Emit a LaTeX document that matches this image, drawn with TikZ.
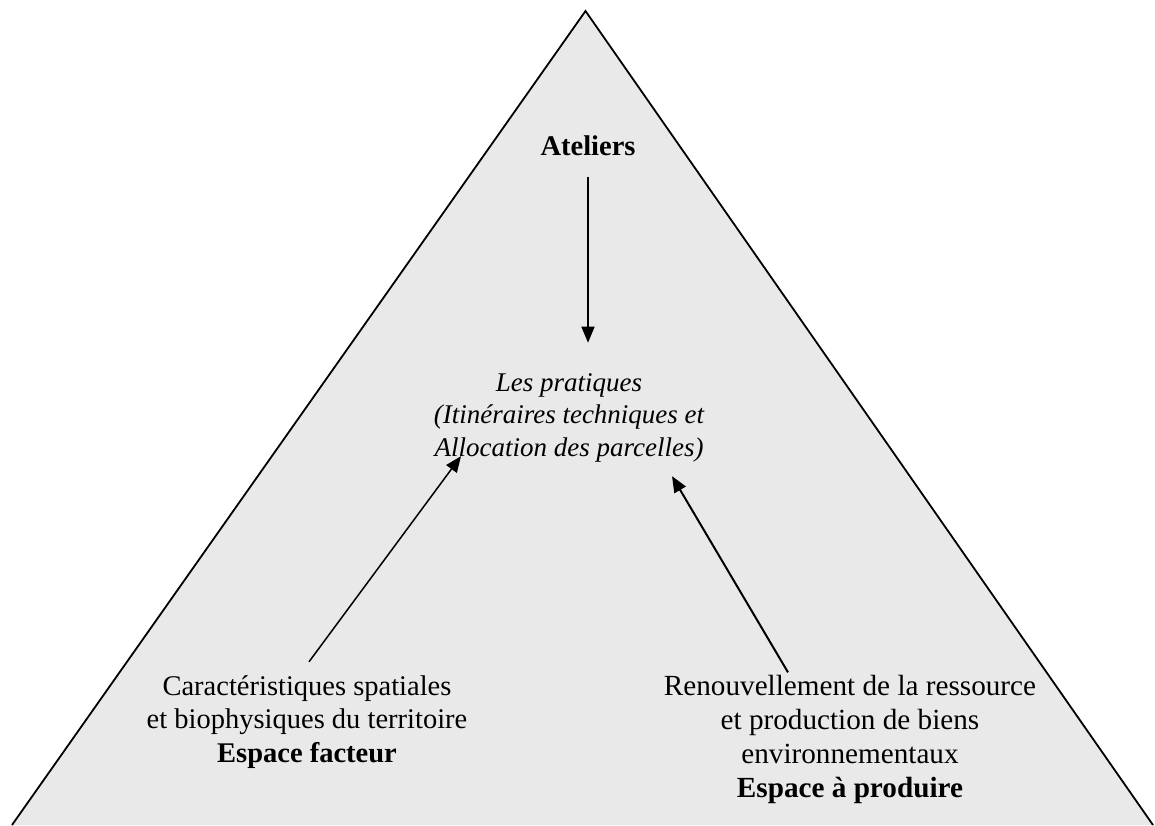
\documentclass[tikz,border=0pt]{standalone}
\usepackage{fontspec}
\setmainfont{Liberation Serif}
\usetikzlibrary{arrows.meta}
\definecolor{fond}{RGB}{233,233,233}

\begin{document}
\begin{tikzpicture}[x=0.5pt, y=-0.5pt,
  fleche/.style = {-{Triangle[length=8pt,width=6.5pt]}, line width=0.75pt},
  texte/.style = {align=center, inner sep=0pt, anchor=base,
    font=\fontsize{14.25}{16.75}\selectfont}]
\useasboundingbox (0,0) rectangle (1155,825);
\fill [fond] (585.5,11) -- (12,825) -- (1153,825) -- cycle;
\draw [line width=0.9pt, line join=miter] (12,825) -- (585.5,11) -- (1153,825);
\node [texte, font=\fontsize{14.25}{16.75}\selectfont\bfseries] (ateliers) at (588,155) {Ateliers};
\node [texte, font=\fontsize{13.5}{16.25}\selectfont\itshape] (pratiques) at (569,456)
  {Les pratiques\\(Itinéraires techniques et\\Allocation des parcelles)};
\node [texte] (caract) at (307,762)
  {Caractéristiques spatiales\\et biophysiques du territoire\\\textbf{Espace facteur}};
\node [texte, font=\fontsize{14.6}{17}\selectfont] (renouv) at (850,797)
  {Renouvellement de la ressource\\et production de biens\\environnementaux\\\textbf{Espace à produire}};
\draw [fleche] ([yshift=-10.5pt]ateliers.south) -- ([yshift=15pt]ateliers.south |- pratiques.north);
\draw [fleche] ([shift={(1pt,6.5pt)}]caract.north) -- ([shift={(-54pt,3pt)}]pratiques.south);
\draw [fleche, line width=1pt] ([shift={(-31pt,1pt)}]renouv.north) -- ([shift={(51.5pt,-7pt)}]pratiques.south);
\end{tikzpicture}
\end{document}
